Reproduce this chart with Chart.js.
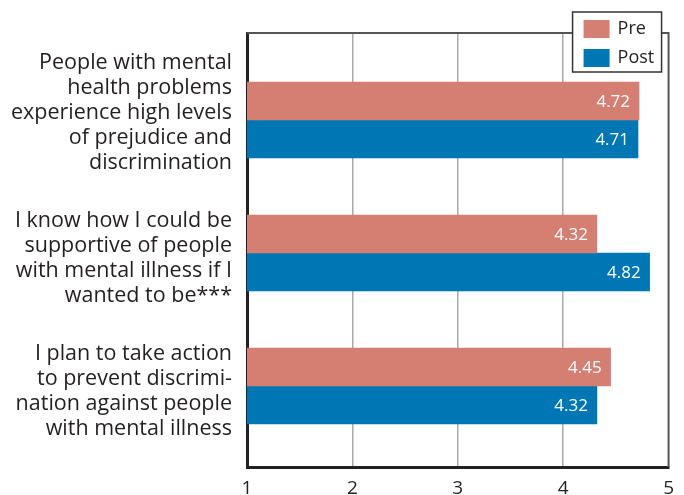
<!DOCTYPE html>
<html>
<head>
<meta charset="utf-8">
<script src="https://cdn.jsdelivr.net/npm/chart.js@4/dist/chart.umd.min.js"></script>
<style>
  html, body { margin: 0; padding: 0; background: #fff; }
  #wrap { width: 684px; height: 495px; position: relative; }
</style>
</head>
<body>
<div id="wrap"><canvas id="statementChart"></canvas></div>
<script>
// Data
const statements = [
    ['People with mental', 'health problems', 'experience high levels', 'of prejudice and', 'discrimination'],
    ['I know how I could be', 'supportive of people', 'with mental illness if I', 'wanted to be***'],
    ['I plan to take action', 'to prevent discrimi-', 'nation against people', 'with mental illness']
];
const preScores = [4.72, 4.32, 4.45];
const postScores = [4.71, 4.82, 4.32];
const xTicks = [1, 2, 3, 4, 5];

const textColor = '#231f20';
const fontFamily = '"Open Sans", "Noto Sans", sans-serif';

// Frame (top/right), value labels and boxed legend
const framePlugin = {
    id: 'framePlugin',
    afterDatasetsDraw(chart) {
        const ctx = chart.ctx;
        const area = chart.chartArea;
        ctx.save();
        ctx.strokeStyle = '#555';
        ctx.lineWidth = 2;
        ctx.beginPath();
        ctx.moveTo(area.left, area.top);
        ctx.lineTo(area.right, area.top);
        ctx.lineTo(area.right, area.bottom);
        ctx.stroke();

        // values inside the bars
        ctx.fillStyle = '#fff';
        ctx.font = '17px ' + fontFamily;
        ctx.textAlign = 'right';
        ctx.textBaseline = 'middle';
        chart.data.datasets.forEach((ds, i) => {
            chart.getDatasetMeta(i).data.forEach((bar, j) => {
                ctx.fillText(ds.data[j].x.toFixed(2), bar.x - 9, bar.y + 1);
            });
        });

        // legend
        const boxW = 89, boxH = 60;
        const bx = area.right - 96, by = area.top - 21;
        ctx.fillStyle = '#fff';
        ctx.fillRect(bx, by, boxW, boxH);
        ctx.strokeStyle = '#333';
        ctx.lineWidth = 1.5;
        ctx.strokeRect(bx, by, boxW, boxH);
        ctx.textAlign = 'left';
        ctx.font = '18px ' + fontFamily;
        chart.data.datasets.forEach((ds, i) => {
            const y = by + 8 + i * 29;
            ctx.fillStyle = ds.backgroundColor;
            ctx.fillRect(bx + 11, y, 26, 18);
            ctx.fillStyle = textColor;
            ctx.fillText(ds.label, bx + 45, y + 9);
        });
        ctx.restore();
    }
};

document.addEventListener('DOMContentLoaded', function() {
    const ctx = document.getElementById('statementChart').getContext('2d');
    new Chart(ctx, {
        type: 'bar',
        data: {
            datasets: [{
                label: 'Pre',
                data: preScores.map((v, i) => ({ x: v, y: i })),
                backgroundColor: '#d57f73',
                barThickness: 38
            }, {
                label: 'Post',
                data: postScores.map((v, i) => ({ x: v, y: i })),
                backgroundColor: '#0077b5',
                barThickness: 38
            }]
        },
        options: {
            indexAxis: 'y',
            responsive: true,
            maintainAspectRatio: false,
            animation: false,
            layout: {
                padding: { top: 33, right: 15, bottom: 0, left: 0 }
            },
            plugins: {
                legend: { display: false },
                tooltip: { enabled: false }
            },
            scales: {
                x: {
                    type: 'linear',
                    min: 1,
                    max: 5,
                    afterBuildTicks: scale => {
                        scale.ticks = xTicks.map(v => ({ value: v }));
                    },
                    afterFit: scale => { scale.height = 28; },
                    border: { color: '#222', width: 3 },
                    grid: {
                        drawTicks: false,
                        lineWidth: 1.5,
                        color: c => (c.tick && (c.tick.value === 1 || c.tick.value === 5)) ? 'rgba(0,0,0,0)' : '#aaa'
                    },
                    ticks: {
                        color: textColor,
                        padding: 10,
                        font: { family: fontFamily, size: 19 }
                    }
                },
                y: {
                    type: 'linear',
                    reverse: true,
                    offset: false,
                    min: -0.654,
                    max: 2.609,
                    afterBuildTicks: scale => {
                        scale.ticks = statements.map((s, i) => ({ value: i }));
                    },
                    afterFit: scale => {
                        scale.width = 247;
                        scale.paddingTop = 0;
                        scale.paddingBottom = 0;
                    },
                    border: { color: '#222', width: 3 },
                    grid: { display: false, drawTicks: false },
                    ticks: {
                        autoSkip: false,
                        color: textColor,
                        padding: 15,
                        labelOffset: 5,
                        font: { family: fontFamily, size: 21.5, lineHeight: 1.163 },
                        // the five-line statement sits a little higher in the original
                        callback: value => statements[value].length > 4 ? statements[value].concat(['']) : statements[value]
                    }
                }
            }
        },
        plugins: [framePlugin]
    });
});
</script>
</body>
</html>
